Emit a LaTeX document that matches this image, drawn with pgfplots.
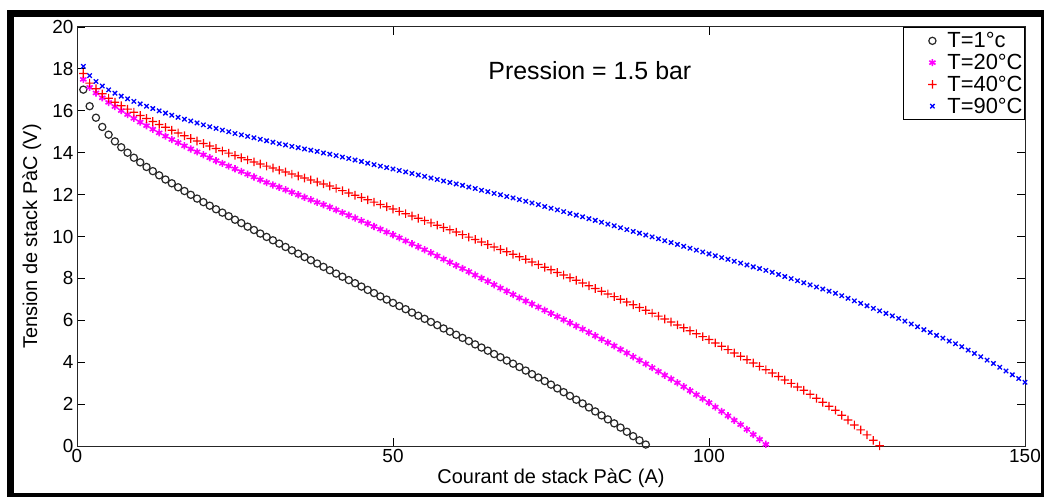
\documentclass[border=0pt]{standalone}
\usepackage{fontspec}
\setmainfont{Liberation Sans}
\usepackage{pgfplots}
\pgfplotsset{compat=1.18}
\definecolor{cmag}{RGB}{255,0,255}
\definecolor{cred}{RGB}{255,0,0}
\definecolor{cblue}{RGB}{0,0,255}
\definecolor{cblack}{RGB}{40,40,40}
\pgfdeclareplotmark{fplus}{%
  \pgfpathrectangle{\pgfqpoint{-\pgfplotmarksize}{-0.6bp}}{\pgfqpoint{2\pgfplotmarksize}{1.2bp}}%
  \pgfpathrectangle{\pgfqpoint{-0.6bp}{-\pgfplotmarksize}}{\pgfqpoint{1.2bp}{2\pgfplotmarksize}}%
  \pgfusepathqfill}
\pgfplotsset{legmark/.style={legend image code/.code={\path[draw=none,fill=none] (-29bp,0bp) -- (13bp,0bp); \draw[##1] plot coordinates {(0bp,0bp)};}}}
\begin{document}
\begin{tikzpicture}
\useasboundingbox (0bp,0bp) rectangle (1044bp,498bp);
\fill[white] (0bp,0bp) rectangle (1044bp,498bp);
\begin{axis}[
  at={(77bp,52bp)}, anchor=south west,
  scale only axis, width=948bp, height=419bp,
  xmin=0, xmax=150, ymin=0, ymax=20,
  xtick={0,50,100,150}, ytick={0,2,...,20},
  tick align=inside, major tick length=8bp,
  axis line style={line width=1bp, black!85},
  tick style={line width=0.8bp, black},
  ticklabel style={font=\fontsize{19}{21}\selectfont},
  /pgf/number format/assume math mode=true,
  xlabel={Courant de stack PàC (A)},
  ylabel={Tension de stack PàC (V)},
  label style={font=\fontsize{20}{22}\selectfont},
  xlabel style={at={(axis description cs:0.5,-0.0764)}, anchor=center},
  ylabel style={at={(axis description cs:-0.0475,0.5)}, anchor=center},
  legend style={at={(1,1)}, anchor=north east, draw=black, line width=0.9bp,
    font=\fontsize{22}{24}\selectfont, inner xsep=0bp, inner ysep=3bp, row sep=1bp},
  legend cell align=left,
]
\addplot[only marks, mark=o, mark size=3.6bp, cblack, line width=1.2bp, mark options={draw=cblack}, legmark] coordinates {
(1,17.01)(2,16.22)(3,15.67)(4,15.23)(5,14.86)(6,14.54)(7,14.26)(8,14.00)(9,13.76)(10,13.54)
(11,13.32)(12,13.12)(13,12.92)(14,12.72)(15,12.54)(16,12.35)(17,12.17)(18,11.99)(19,11.81)(20,11.64)
(21,11.47)(22,11.30)(23,11.14)(24,10.97)(25,10.80)(26,10.64)(27,10.47)(28,10.31)(29,10.14)(30,9.98)
(31,9.82)(32,9.66)(33,9.50)(34,9.34)(35,9.18)(36,9.02)(37,8.87)(38,8.71)(39,8.55)(40,8.39)
(41,8.23)(42,8.08)(43,7.92)(44,7.77)(45,7.61)(46,7.45)(47,7.30)(48,7.14)(49,6.99)(50,6.83)
(51,6.68)(52,6.53)(53,6.37)(54,6.22)(55,6.07)(56,5.92)(57,5.77)(58,5.61)(59,5.46)(60,5.31)
(61,5.16)(62,5.01)(63,4.85)(64,4.70)(65,4.55)(66,4.39)(67,4.24)(68,4.08)(69,3.93)(70,3.77)
(71,3.60)(72,3.43)(73,3.27)(74,3.10)(75,2.93)(76,2.75)(77,2.57)(78,2.39)(79,2.21)(80,2.03)
(81,1.84)(82,1.65)(83,1.46)(84,1.27)(85,1.08)(86,0.88)(87,0.68)(88,0.47)(89,0.27)(90,0.07)
};
\addlegendentry{T=1°c}
\addplot[only marks, mark=asterisk, mark size=3.6bp, cmag, line width=1.6bp, mark options={draw=cmag}, legmark] coordinates {
(1,17.50)(2,17.12)(3,16.85)(4,16.62)(5,16.40)(6,16.20)(7,16.01)(8,15.82)(9,15.64)(10,15.46)
(11,15.29)(12,15.12)(13,14.95)(14,14.79)(15,14.63)(16,14.48)(17,14.33)(18,14.18)(19,14.04)(20,13.90)
(21,13.76)(22,13.62)(23,13.49)(24,13.36)(25,13.23)(26,13.10)(27,12.97)(28,12.84)(29,12.71)(30,12.58)
(31,12.46)(32,12.35)(33,12.23)(34,12.11)(35,11.99)(36,11.87)(37,11.75)(38,11.63)(39,11.52)(40,11.40)
(41,11.27)(42,11.14)(43,11.01)(44,10.88)(45,10.75)(46,10.62)(47,10.48)(48,10.35)(49,10.21)(50,10.08)
(51,9.94)(52,9.79)(53,9.65)(54,9.51)(55,9.37)(56,9.22)(57,9.07)(58,8.92)(59,8.77)(60,8.62)
(61,8.47)(62,8.32)(63,8.16)(64,8.01)(65,7.86)(66,7.70)(67,7.54)(68,7.39)(69,7.23)(70,7.07)
(71,6.92)(72,6.78)(73,6.63)(74,6.48)(75,6.33)(76,6.18)(77,6.03)(78,5.88)(79,5.73)(80,5.58)
(81,5.42)(82,5.26)(83,5.10)(84,4.94)(85,4.78)(86,4.61)(87,4.44)(88,4.26)(89,4.09)(90,3.92)
(91,3.74)(92,3.56)(93,3.38)(94,3.20)(95,3.02)(96,2.83)(97,2.64)(98,2.45)(99,2.26)(100,2.07)
(101,1.86)(102,1.65)(103,1.44)(104,1.23)(105,1.02)(106,0.79)(107,0.55)(108,0.32)(109,0.08)
};
\addlegendentry{T=20°C}
\addplot[only marks, mark=fplus, mark size=4.3bp, cred, mark options={fill=cred, draw=cred}, legmark] coordinates {
(1,17.78)(2,17.32)(3,17.05)(4,16.81)(5,16.60)(6,16.41)(7,16.24)(8,16.08)(9,15.93)(10,15.78)
(11,15.63)(12,15.49)(13,15.35)(14,15.21)(15,15.07)(16,14.94)(17,14.81)(18,14.68)(19,14.56)(20,14.44)
(21,14.32)(22,14.20)(23,14.09)(24,13.98)(25,13.87)(26,13.76)(27,13.66)(28,13.56)(29,13.46)(30,13.36)
(31,13.27)(32,13.17)(33,13.08)(34,12.98)(35,12.89)(36,12.79)(37,12.70)(38,12.60)(39,12.51)(40,12.41)
(41,12.30)(42,12.19)(43,12.08)(44,11.97)(45,11.86)(46,11.75)(47,11.64)(48,11.53)(49,11.42)(50,11.31)
(51,11.20)(52,11.09)(53,10.98)(54,10.87)(55,10.76)(56,10.65)(57,10.54)(58,10.43)(59,10.32)(60,10.21)
(61,10.09)(62,9.97)(63,9.86)(64,9.74)(65,9.62)(66,9.50)(67,9.38)(68,9.27)(69,9.15)(70,9.03)
(71,8.91)(72,8.78)(73,8.66)(74,8.53)(75,8.41)(76,8.28)(77,8.16)(78,8.03)(79,7.91)(80,7.78)
(81,7.65)(82,7.52)(83,7.39)(84,7.26)(85,7.13)(86,7.00)(87,6.87)(88,6.74)(89,6.61)(90,6.48)
(91,6.34)(92,6.20)(93,6.06)(94,5.92)(95,5.78)(96,5.64)(97,5.50)(98,5.36)(99,5.22)(100,5.08)
(101,4.92)(102,4.76)(103,4.60)(104,4.44)(105,4.28)(106,4.12)(107,3.96)(108,3.80)(109,3.64)(110,3.48)
(111,3.32)(112,3.15)(113,2.99)(114,2.82)(115,2.66)(116,2.47)(117,2.28)(118,2.09)(119,1.90)(120,1.71)
(121,1.47)(122,1.24)(123,1.00)(124,0.77)(125,0.53)(126,0.27)(127,0.01)
};
\addlegendentry{T=40°C}
\addplot[only marks, mark=x, mark size=3.1bp, cblue, line width=1.3bp, mark options={draw=cblue}, legmark] coordinates {
(1,18.12)(2,17.68)(3,17.40)(4,17.18)(5,17.00)(6,16.84)(7,16.70)(8,16.57)(9,16.45)(10,16.33)
(11,16.22)(12,16.11)(13,16.00)(14,15.89)(15,15.79)(16,15.69)(17,15.60)(18,15.51)(19,15.42)(20,15.33)
(21,15.24)(22,15.16)(23,15.08)(24,15.00)(25,14.92)(26,14.85)(27,14.78)(28,14.71)(29,14.64)(30,14.57)
(31,14.50)(32,14.43)(33,14.37)(34,14.30)(35,14.24)(36,14.18)(37,14.12)(38,14.06)(39,13.99)(40,13.93)
(41,13.86)(42,13.79)(43,13.72)(44,13.65)(45,13.58)(46,13.50)(47,13.43)(48,13.36)(49,13.29)(50,13.22)
(51,13.15)(52,13.08)(53,13.01)(54,12.94)(55,12.87)(56,12.79)(57,12.72)(58,12.65)(59,12.58)(60,12.51)
(61,12.44)(62,12.36)(63,12.29)(64,12.21)(65,12.14)(66,12.06)(67,11.99)(68,11.91)(69,11.84)(70,11.76)
(71,11.68)(72,11.60)(73,11.52)(74,11.43)(75,11.35)(76,11.27)(77,11.19)(78,11.10)(79,11.02)(80,10.94)
(81,10.85)(82,10.77)(83,10.68)(84,10.59)(85,10.51)(86,10.42)(87,10.33)(88,10.24)(89,10.16)(90,10.07)
(91,9.98)(92,9.89)(93,9.80)(94,9.71)(95,9.62)(96,9.53)(97,9.44)(98,9.35)(99,9.26)(100,9.17)
(101,9.08)(102,8.99)(103,8.91)(104,8.82)(105,8.73)(106,8.64)(107,8.55)(108,8.47)(109,8.38)(110,8.29)
(111,8.19)(112,8.09)(113,7.99)(114,7.89)(115,7.79)(116,7.69)(117,7.59)(118,7.49)(119,7.39)(120,7.29)
(121,7.17)(122,7.05)(123,6.93)(124,6.81)(125,6.69)(126,6.57)(127,6.45)(128,6.33)(129,6.21)(130,6.09)
(131,5.96)(132,5.82)(133,5.69)(134,5.55)(135,5.42)(136,5.28)(137,5.15)(138,5.01)(139,4.88)(140,4.74)
(141,4.58)(142,4.42)(143,4.26)(144,4.10)(145,3.94)(146,3.76)(147,3.58)(148,3.40)(149,3.22)(150,3.04)
};
\addlegendentry{T=90°C}
\node[font=\fontsize{25}{28}\selectfont] at (axis description cs:0.541,0.897) {Pression = 1.5 bar};
\end{axis}
\fill[black] (7bp,1bp) rectangle (14bp,488bp);
\fill[black] (7bp,481bp) rectangle (1044bp,488bp);
\fill[black] (7bp,1bp) rectangle (1044bp,5bp);
\fill[black] (1041bp,1bp) rectangle (1044bp,488bp);
\end{tikzpicture}
\end{document}
